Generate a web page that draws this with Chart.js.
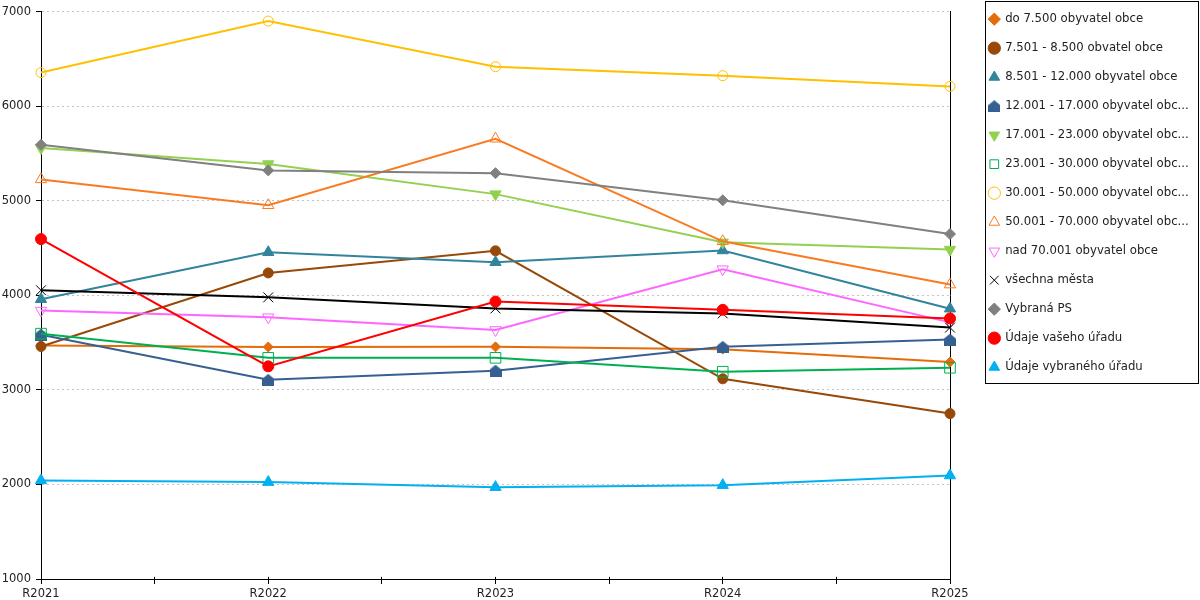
<!DOCTYPE html>
<html>
<head>
<meta charset="utf-8">
<title>Vývoj podle velikosti obce</title>
<script src="https://cdn.jsdelivr.net/npm/chart.js@4"></script>
<style>
  body { margin: 0; background: #fff; }
</style>
</head>
<body>
<canvas id="trendChart" width="1200" height="600"></canvas>
<script>
const categories = ['R2021', 'R2022', 'R2023', 'R2024', 'R2025'];

const do7500 = [3470, 3455, 3456, 3432, 3295];
const s7501 = [3460, 4238, 4472, 3118, 2750];
const s8501 = [3960, 4457, 4352, 4476, 3860];
const s12001 = [3585, 3107, 3204, 3456, 3533];
const s17001 = [5560, 5390, 5072, 4562, 4485];
const s23001 = [3596, 3340, 3340, 3193, 3235];
const s30001 = [6358, 6903, 6420, 6325, 6212];
const s50001 = [5228, 4954, 5658, 4573, 4115];
const nad70001 = [3840, 3770, 3635, 4278, 3715];
const vsechnaMesta = [4055, 3980, 3863, 3810, 3660];
const vybranaPS = [5594, 5323, 5294, 5007, 4650];
const vasUrad = [4596, 3250, 3935, 3848, 3757];
const vybranyUrad = [2043, 2025, 1972, 1993, 2095];

const seriesNames = [
  'do 7.500 obyvatel obce',
  '7.501 - 8.500 obvatel obce',
  '8.501 - 12.000 obyvatel obce',
  '12.001 - 17.000 obyvatel obce',
  '17.001 - 23.000 obyvatel obce',
  '23.001 - 30.000 obyvatel obce',
  '30.001 - 50.000 obyvatel obce',
  '50.001 - 70.000 obyvatel obce',
  'nad 70.001 obyvatel obce',
  'všechna města',
  'Vybraná PS',
  'Údaje vašeho úřadu',
  'Údaje vybraného úřadu',
];

const yTicks = [1000, 2000, 3000, 4000, 5000, 6000, 7000];

const FONT = 'DejaVu Sans';
const TEXT = '#222';
const HOLLOW = 'rgba(255,255,255,0)';

function shortLabel(text) {
  return text.length > 28 ? `${text.slice(0, 28)}...` : text;
}

// marker shaped like a little house (no built-in point style for it)
function houseMarker(color) {
  const c = document.createElement('canvas');
  c.width = 12;
  c.height = 12;
  const g = c.getContext('2d');
  g.fillStyle = color;
  g.beginPath();
  g.moveTo(6, 0);
  g.lineTo(12, 5);
  g.lineTo(12, 12);
  g.lineTo(0, 12);
  g.lineTo(0, 5);
  g.closePath();
  g.fill();
  return c;
}

function makeSeries(label, values, color, style) {
  return {
    label,
    data: values.map((y, i) => ({ x: i, y })),
    borderColor: color,
    backgroundColor: color,
    borderWidth: 2,
    tension: 0,
    clip: false,
    pointStyle: style.shape,
    pointRotation: style.rotation || 0,
    pointRadius: style.radius,
    pointHoverRadius: style.radius,
    pointBackgroundColor: style.hollow ? HOLLOW : color,
    pointBorderColor: color,
    pointBorderWidth: 1,
  };
}

const datasets = [
  makeSeries(seriesNames[0], do7500, '#E46C0A', { shape: 'rectRot', radius: 5 }),
  makeSeries(seriesNames[1], s7501, '#984807', { shape: 'circle', radius: 5 }),
  makeSeries(seriesNames[2], s8501, '#31849B', { shape: 'triangle', radius: 6.5 }),
  makeSeries(seriesNames[3], s12001, '#376092', { shape: houseMarker('#376092'), radius: 6 }),
  makeSeries(seriesNames[4], s17001, '#92D050', { shape: 'triangle', rotation: 180, radius: 6.5 }),
  makeSeries(seriesNames[5], s23001, '#00B050', { shape: 'rect', radius: 7.5, hollow: true }),
  makeSeries(seriesNames[6], s30001, '#FFC000', { shape: 'circle', radius: 5, hollow: true }),
  makeSeries(seriesNames[7], s50001, '#FA7A22', { shape: 'triangle', radius: 6.5, hollow: true }),
  makeSeries(seriesNames[8], nad70001, '#FF66FF', { shape: 'triangle', rotation: 180, radius: 6.5, hollow: true }),
  makeSeries(seriesNames[9], vsechnaMesta, '#000000', { shape: 'crossRot', radius: 7 }),
  makeSeries(seriesNames[10], vybranaPS, '#808080', { shape: 'rectRot', radius: 5.5 }),
  makeSeries(seriesNames[11], vasUrad, '#FF0000', { shape: 'circle', radius: 5.5 }),
  makeSeries(seriesNames[12], vybranyUrad, '#00B0F0', { shape: 'triangle', radius: 6.5 }),
];
// later series are drawn on top
datasets.forEach((ds, i) => { ds.order = datasets.length - i; });

const legendFrame = {
  id: 'legendFrame',
  afterLayout(chart) {
    const lg = chart.legend;
    lg.left = 972;
    lg.right = 1200;
    lg.width = 228;
    lg.top = -4;
    lg.bottom = lg.top + lg.height;
  },
  afterDraw(chart) {
    const { ctx } = chart;
    ctx.save();
    ctx.strokeStyle = '#000';
    ctx.lineWidth = 1;
    ctx.strokeRect(985.5, 1.5, 213, 382);
    ctx.restore();
  },
};

document.addEventListener('DOMContentLoaded', () => {
  const ctx = document.getElementById('trendChart');
  // eslint-disable-next-line no-unused-vars,no-undef
  const trendChart = new Chart(ctx, {
    type: 'line',
    data: { datasets },
    plugins: [legendFrame],
    options: {
      responsive: false,
      animation: false,
      layout: { padding: { top: 10, right: 0, bottom: 0, left: 0 } },
      plugins: {
        tooltip: { enabled: false },
        legend: {
          position: 'right',
          align: 'start',
          maxWidth: 100,
          labels: {
            usePointStyle: true,
            boxWidth: 10,
            boxHeight: 8.7,
            padding: 17.3,
            color: TEXT,
            font: { family: FONT, size: 11.7 },
            sort: (a, b) => a.datasetIndex - b.datasetIndex,
            // eslint-disable-next-line no-undef
            generateLabels: (chart) => Chart.defaults.plugins.legend.labels.generateLabels(chart)
              .map((item) => ({ ...item, text: shortLabel(item.text) })),
          },
        },
      },
      scales: {
        x: {
          type: 'linear',
          min: 0,
          max: categories.length - 1,
          afterFit: (scale) => { scale.height = 21; },
          ticks: {
            stepSize: 0.5,
            autoSkip: false,
            maxRotation: 0,
            padding: 3,
            color: TEXT,
            font: { family: FONT, size: 11.5 },
            callback: (v) => (Number.isInteger(v) ? categories[v] : ''),
          },
          grid: {
            color: '#000',
            tickColor: '#000',
            tickLength: 5,
          },
          // only the last few pixels of each grid line show: a tick poking into the plot
          border: { color: '#000', dash: [0, 565, 4, 0] },
        },
        y: {
          min: yTicks[0],
          max: yTicks[yTicks.length - 1],
          afterFit: (scale) => { scale.width = 41; },
          afterBuildTicks: (scale) => { scale.ticks = yTicks.map((value) => ({ value })); },
          ticks: {
            padding: 5,
            color: TEXT,
            font: { family: FONT, size: 11.5 },
            callback: (v) => String(v),
          },
          grid: {
            color: '#c4c4c4',
            tickColor: '#000',
            tickLength: 5,
          },
          border: { color: '#000', dash: [2, 3] },
        },
        y2: {
          position: 'right',
          afterFit: (scale) => { scale.width = 150; },
          ticks: { display: false },
          grid: { drawOnChartArea: false, drawTicks: false },
          border: { color: '#000' },
        },
      },
    },
  });
});
</script>
</body>
</html>
